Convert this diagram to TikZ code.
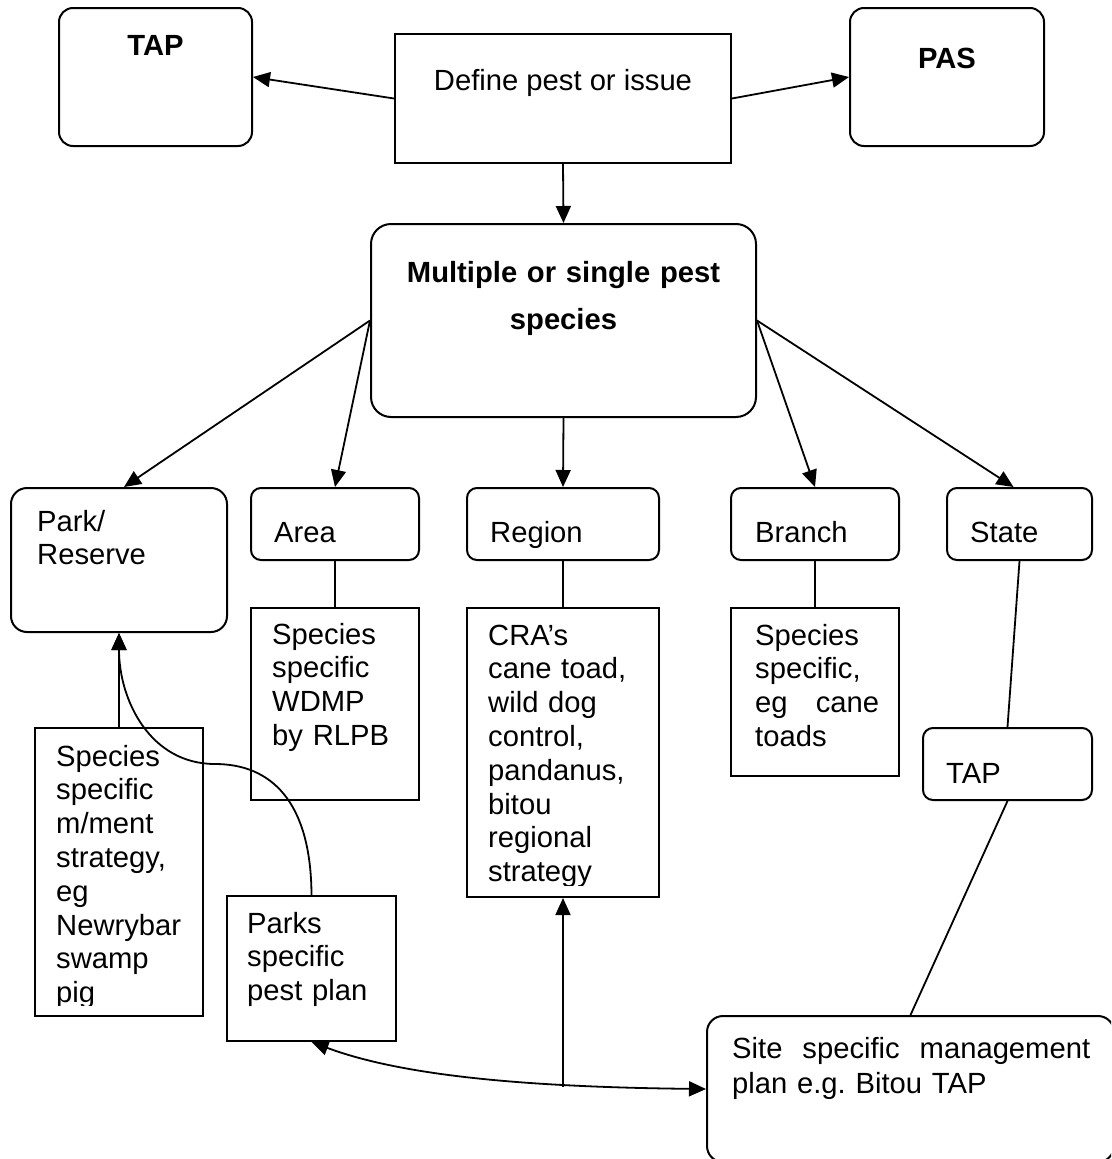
\documentclass[tikz,border=0pt]{standalone}
\usepackage{fontspec}
\setmainfont{Liberation Sans}
\usetikzlibrary{arrows.meta,calc}
\frenchspacing
\begin{document}
\begin{tikzpicture}[x=1pt,y=-1pt,
  box/.style={draw, line width=2pt, inner sep=0pt},
  conn/.style={line width=1.8pt},
  arr/.style={conn, -{Triangle[length=17pt,width=15pt]}},
  txt/.style={inner sep=0pt, anchor=base west, align=left, text width=#1,
    font=\fontsize{29.2}{33.8}\selectfont},
  txt/.default=160pt,
  btxt/.style={inner sep=0pt, anchor=base, align=center, text width=#1,
    font=\fontsize{29.2}{47}\selectfont\bfseries},
  btxt/.default=160pt]
\clip (0,0) rectangle (1111,1159);
\fill[white] (0,0) rectangle (1111,1159);

% boxes
\node[box, rounded corners=14pt, minimum width=193pt, minimum height=138pt] (tap1) at (155.5,77) {};
\node[box, minimum width=336pt, minimum height=129pt] (define) at (563,98.5) {};
\node[box, rounded corners=14pt, minimum width=194pt, minimum height=138pt] (pas) at (947,77) {};
\node[box, rounded corners=20pt, minimum width=385pt, minimum height=193pt] (multi) at (563.5,320.5) {};
\node[box, rounded corners=16pt, minimum width=216pt, minimum height=144pt] (park) at (119,560) {};
\node[box, rounded corners=10pt, minimum width=168pt, minimum height=72pt] (area) at (335,524) {};
\node[box, rounded corners=10pt, minimum width=192pt, minimum height=72pt] (region) at (563,524) {};
\node[box, rounded corners=10pt, minimum width=168pt, minimum height=72pt] (branch) at (815,524) {};
\node[box, rounded corners=10pt, minimum width=145pt, minimum height=72pt] (state) at (1019.5,524) {};
\node[box, minimum width=168pt, minimum height=192pt] (wdmp) at (335,704) {};
\node[box, minimum width=192pt, minimum height=289pt] (cra) at (563,752.5) {};
\node[box, minimum width=168pt, minimum height=168pt] (spec) at (815,692) {};
\node[box, rounded corners=10pt, minimum width=169pt, minimum height=72pt] (tap2) at (1007.5,764) {};
\node[box, minimum width=168pt, minimum height=288pt] (mment) at (119,872) {};
\node[box, minimum width=169pt, minimum height=145pt] (parks) at (311.5,968.5) {};
\node[box, rounded corners=16pt, minimum width=407pt, minimum height=146pt] (site) at (910.5,1089) {};

% texts
\node[btxt=120pt] (ttap1) at (155.5,55) {TAP};
\node[btxt=120pt] (tpas) at (947,68) {PAS};
\node[inner sep=0pt, anchor=base, font=\fontsize{29.2}{33.8}\selectfont] (tdefine) at (563,90) {Define pest or issue};
\node[btxt=380pt] (tmulti) at (563.5,282) {Multiple or single pest\\ species};
\node[txt] (tpark) at (37,531) {Park/\\ Reserve};
\node[txt] (tarea) at (274,542) {Area};
\node[txt] (tregion) at (490,542) {Region};
\node[txt] (tbranch) at (755,542) {Branch};
\node[txt] (tstate) at (970,542) {State};
\node[txt] (twdmp) at (272,644) {Species\\ specific\\ WDMP\\ by RLPB};
\begin{scope}
  \clip (467,608) rectangle (659,885);
  \node[txt] (tcra) at (488,645) {CRA’s\\ cane toad,\\ wild dog\\ control,\\ pandanus,\\ bitou\\ regional\\ strategy};
\end{scope}
\node[txt=124pt] (tspec) at (755,645) {Species\\ specific,\\ eg\hfill cane\\ toads};
\node[txt] (ttap2) at (946,783) {TAP};
\begin{scope}
  \clip (35,728) rectangle (203,1005);
  \node[txt] (tmment) at (56,766) {Species\\ specific\\ m/ment\\ strategy,\\ eg\\ Newrybar\\ swamp\\ pig};
\end{scope}
\node[txt] (tparks) at (247,933) {Parks\\ specific\\ pest plan};
\node[txt=358pt, font=\fontsize{29.2}{35}\selectfont] (tsite) at (732,1058) {Site\hfill specific\hfill management\\ plan e.g. Bitou TAP};

% connectors
\draw[arr] (define.west) -- (tap1.east);
\draw[arr] (define.east) -- (pas.west);
\draw[arr] (define.south) -- (multi.north);
\draw[arr] (multi.west) -- ($(park.north)+(5,0)$);
\draw[arr] (multi.west) -- (area.north);
\draw[arr] (multi.south) -- (region.north);
\draw[arr] (multi.east) -- (branch.north);
\draw[arr] (multi.east) -- ($(state.north)+(-6,0)$);
\draw[conn] (area.south) -- (wdmp.north);
\draw[conn] (region.south) -- (cra.north);
\draw[conn] (branch.south) -- (spec.north);
\draw[conn] (state.south) -- (tap2.north);
\draw[conn] (tap2.south) -- (site.north);
\draw[arr] (mment.north) -- (park.south);
\draw[arr] (parks.north) .. controls (311,800) and (270,764) .. (215,764)
  .. controls (150,764) and (119,700) .. (park.south);
\coordinate (vb) at (563,1087);
\draw[arr] (vb) -- (cra.south);
\draw[conn, {Triangle[length=17pt,width=15pt]}-{Triangle[length=17pt,width=15pt]}]
  (parks.south) .. controls (400,1075) and (520,1087) .. (site.west);
\end{tikzpicture}
\end{document}
